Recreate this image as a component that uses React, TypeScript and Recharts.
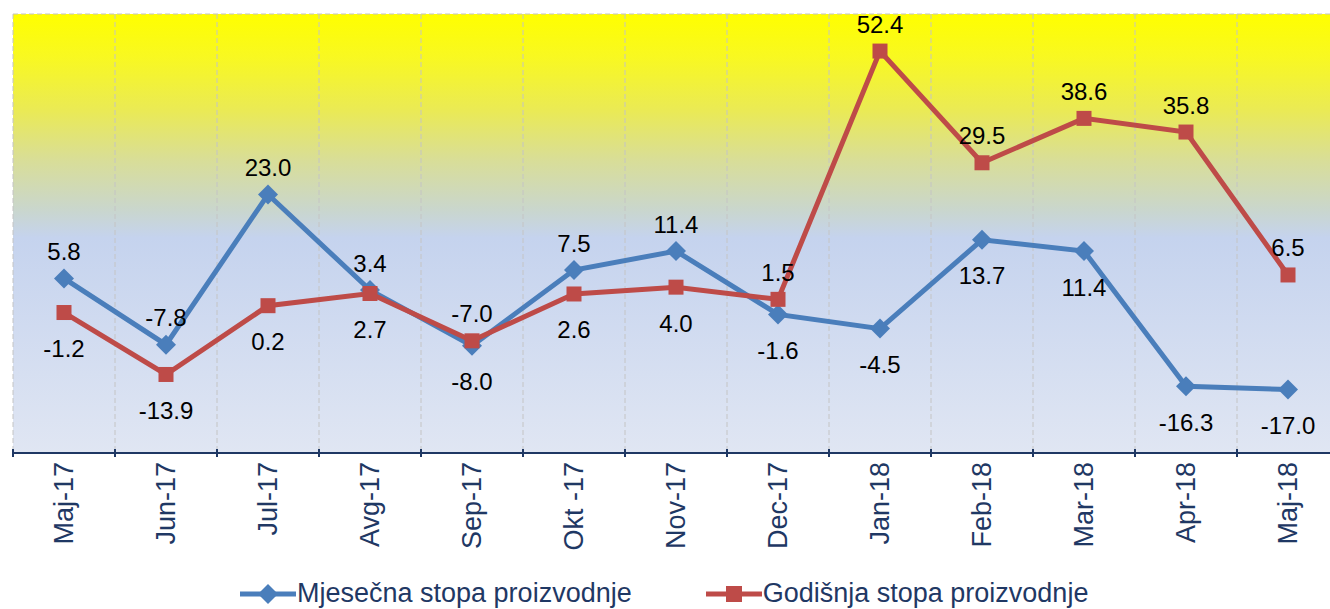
import React from "react";
import {
  LineChart,
  Line,
  XAxis,
  YAxis,
  CartesianGrid,
  LabelList,
  Legend,
} from "recharts";

const categories = [
  "Maj-17", "Jun-17", "Jul-17", "Avg-17", "Sep-17", "Okt -17", "Nov-17",
  "Dec-17", "Jan-18", "Feb-18", "Mar-18", "Apr-18", "Maj-18",
];
const monthlyRate = [5.8, -7.8, 23.0, 3.4, -8.0, 7.5, 11.4, -1.6, -4.5, 13.7, 11.4, -16.3, -17.0];
const annualRate = [-1.2, -13.9, 0.2, 2.7, -7.0, 2.6, 4.0, 1.5, 52.4, 29.5, 38.6, 35.8, 6.5];
const yTicks = [-30, -20, -10, 0, 10, 20, 30, 40, 50, 60];

const MONTHLY_NAME = "Mjesečna stopa proizvodnje";
const ANNUAL_NAME = "Godišnja stopa proizvodnje";

const BLUE = "#4A7EBB";
const RED = "#BE4B48";
const NAVY = "#1F3864";
const FONT = "'Liberation Sans', Arial, sans-serif";

const CHART_W = 1345;
const MARGIN = { top: 14, right: 6, left: 13, bottom: 0 };
const BAND = (CHART_W - MARGIN.left - MARGIN.right) / categories.length;

const data = categories.map((c, i) => ({ cat: c, monthly: monthlyRate[i], annual: annualRate[i] }));

function Diamond(props: any) {
  const { cx, cy } = props;
  if (cx == null || cy == null) return null;
  const r = 10;
  return (
    <polygon
      points={`${cx},${cy - r} ${cx + r},${cy} ${cx},${cy + r} ${cx - r},${cy}`}
      fill={BLUE}
    />
  );
}

function Square(props: any) {
  const { cx, cy } = props;
  if (cx == null || cy == null) return null;
  const s = 15;
  return <rect x={cx - s / 2} y={cy - s / 2} width={s} height={s} fill={RED} />;
}

// the higher of the two values gets its label above the point, the other below
function makeLabel(own: number[], other: number[]) {
  return (props: any) => {
    const { x, y, index, value } = props;
    if (x == null || y == null) return null;
    const above = own[index] >= other[index];
    return (
      <text
        x={x}
        y={above ? y - 27 : y + 36}
        textAnchor="middle"
        dominantBaseline="central"
        fontFamily={FONT}
        fontSize={24}
        fill="#000"
      >
        {Number(value).toFixed(1)}
      </text>
    );
  };
}

// category label plus tick marks on the band edges (Excel style)
function CatTick(props: any) {
  const { x, y, payload, index } = props;
  const isLast = index === categories.length - 1;
  return (
    <g>
      <line x1={x - BAND / 2} y1={y - 12} x2={x - BAND / 2} y2={y - 4} stroke={NAVY} strokeWidth={2} />
      {isLast && (
        <line x1={x + BAND / 2} y1={y - 12} x2={x + BAND / 2} y2={y - 4} stroke={NAVY} strokeWidth={2} />
      )}
      <text
        transform={`translate(${x},${y + 1}) rotate(-90)`}
        textAnchor="end"
        dominantBaseline="central"
        fontFamily={FONT}
        fontSize={27}
        fill={NAVY}
      >
        {payload.value}
      </text>
    </g>
  );
}

function LegendBox() {
  const item = (color: string, marker: React.ReactNode, label: string) => (
    <div style={{ display: "flex", alignItems: "center", marginRight: 74 }}>
      <svg width={56} height={20}>
        <line x1={0} y1={10} x2={56} y2={10} stroke={color} strokeWidth={5} />
        {marker}
      </svg>
      <span style={{ fontFamily: FONT, fontSize: 27, color: NAVY, marginLeft: 1 }}>{label}</span>
    </div>
  );
  return (
    <div style={{ display: "flex", alignItems: "center" }}>
      {item(BLUE, <polygon points="28,0 38,10 28,20 18,10" fill={BLUE} />, MONTHLY_NAME)}
      {item(RED, <rect x={20} y={2} width={16} height={16} fill={RED} />, ANNUAL_NAME)}
    </div>
  );
}

export default function App() {
  return (
    <div style={{ position: "absolute", left: 0, top: 0, width: 1330, height: 609, overflow: "hidden", background: "#fff" }}>
      <LineChart width={CHART_W} height={609} data={data} margin={MARGIN}>
        <defs>
          <linearGradient id="plotBg" x1="0" y1="0" x2="0" y2="1">
            <stop offset="0" stopColor="#FFFF00" />
            <stop offset="0.1" stopColor="#F8F822" />
            <stop offset="0.22" stopColor="#EAEA55" />
            <stop offset="0.33" stopColor="#D9DE96" />
            <stop offset="0.45" stopColor="#C9D6CF" />
            <stop offset="0.51" stopColor="#C5D3EE" />
            <stop offset="1" stopColor="#E0E6F3" />
          </linearGradient>
        </defs>
        <CartesianGrid
          fill="url(#plotBg)"
          fillOpacity={1}
          stroke="#C4C4C4"
          strokeDasharray="5 3"
          verticalCoordinatesGenerator={({ offset }: any) =>
            Array.from({ length: categories.length + 1 }, (_, i) => offset.left + i * BAND)
          }
        />
        <XAxis
          dataKey="cat"
          scale="band"
          height={156}
          axisLine={{ stroke: NAVY, strokeWidth: 2 }}
          tickLine={false}
          interval={0}
          tick={<CatTick />}
        />
        <YAxis domain={[-30, 60]} ticks={yTicks} width={0} tick={false} axisLine={false} tickLine={false} />
        <Legend
          verticalAlign="middle"
          layout="horizontal"
          wrapperStyle={{ top: 578, left: 240, width: 1000 }}
          content={() => <LegendBox />}
        />
        <Line
          dataKey="monthly"
          name={MONTHLY_NAME}
          stroke={BLUE}
          strokeWidth={5}
          dot={(p: any) => <Diamond key={`d${p.index}`} {...p} />}
          activeDot={false}
          isAnimationActive={false}
        >
          <LabelList dataKey="monthly" content={makeLabel(monthlyRate, annualRate)} />
        </Line>
        <Line
          dataKey="annual"
          name={ANNUAL_NAME}
          stroke={RED}
          strokeWidth={5}
          dot={(p: any) => <Square key={`s${p.index}`} {...p} />}
          activeDot={false}
          isAnimationActive={false}
        >
          <LabelList dataKey="annual" content={makeLabel(annualRate, monthlyRate)} />
        </Line>
      </LineChart>
    </div>
  );
}
